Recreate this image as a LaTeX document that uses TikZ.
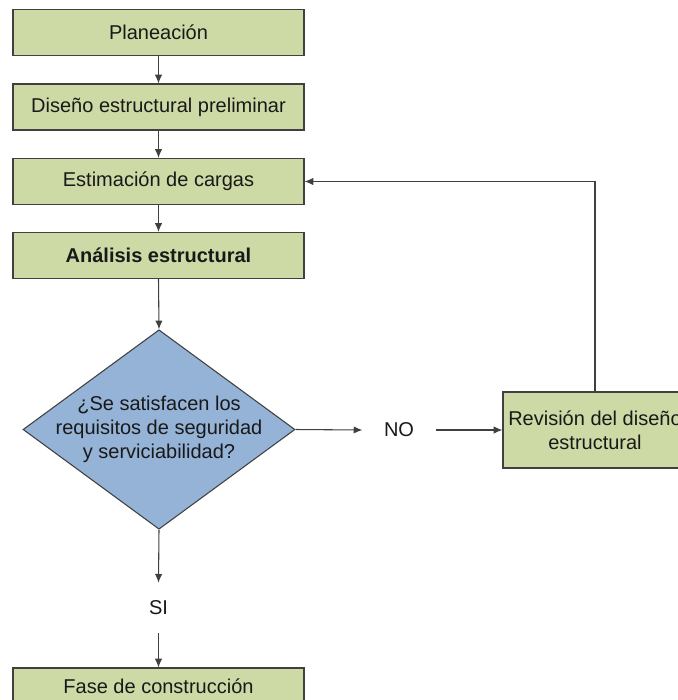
\documentclass[tikz,border=0pt]{standalone}
\usepackage{fontspec}
\setmainfont{Liberation Sans}
\usetikzlibrary{shapes.geometric,arrows.meta}
\definecolor{boxgreen}{RGB}{205,218,166}
\definecolor{decblue}{RGB}{149,179,215}
\definecolor{edgegray}{RGB}{64,64,64}

\begin{document}
\begin{tikzpicture}[x=0.75pt, y=-0.75pt, >={Latex[length=6.5pt,width=5.5pt]}]
      \tikzstyle{snode} = [draw=edgegray, fill=boxgreen, line width=0.9pt, rectangle, minimum width=218.25pt, minimum height=34.5pt, inner sep=2pt, align=center, font=\fontsize{15}{18}\selectfont, text=black!90]
      \tikzstyle{dnode} = [draw=edgegray, fill=decblue, line width=0.8pt, diamond, minimum width=204pt, minimum height=149.6pt, inner sep=0pt]
      \tikzstyle{lnode} = [inner xsep=16pt, inner ysep=13.5pt, font=\fontsize{15}{18}\selectfont, text=black!90]
      \tikzstyle{edge} = [draw=edgegray, line width=0.8pt]

      \useasboundingbox (0,0) rectangle (678,700);
      \clip (0,0) rectangle (678,700);

      %%%%%%%%%%%%%%%%%%%%%%%%%%%%%%
      %% main column
      %%%%%%%%%%%%%%%%%%%%%%%%%%%%%%
      \node[snode] (plan) at (158.5,32.5) {Planeación};
      \node[snode] (dise) at (158.5,107) {Diseño estructural preliminar};
      \node[snode] (esti) at (158.5,181.5) {Estimación de cargas};
      \node[snode] (anal) at (158.5,255.5) {\textbf{Análisis estructural}};

      \node[dnode] (dec) at (159,429.5) {};
      \node[align=center, font=\fontsize{15}{18}\selectfont, text=black!90] (dectext) at (dec.center) {¿Se satisfacen los\\requisitos de seguridad\\y serviciabilidad?};

      \node[lnode] (si) at (158.5,608) {SI};
      \node[snode, minimum height=27pt] (fase) at (158.5,686) {Fase de construcción};

      %%%%%%%%%%%%%%%%%%%%%%%%%%%%%%
      %% revision branch
      %%%%%%%%%%%%%%%%%%%%%%%%%%%%%%
      \node[lnode] (no) at (399,430) {NO};
      \node[snode, minimum width=138pt, minimum height=57pt, inner sep=0pt] (rev) at (595,430) {Revisión del diseño\\estructural};

      % edges down the column
      \draw[edge, ->] (plan.south) -- (dise.north);
      \draw[edge, ->] (dise.south) -- (esti.north);
      \draw[edge, ->] (esti.south) -- (anal.north);
      \draw[edge, ->] (anal.south) -- (dec.north);
      \draw[edge, ->] (dec.south) -- (si.north);
      \draw[edge, ->] (si.south) -- (fase.north);

      % edges of the loop
      \draw[edge, ->] (dec.east) -- (no.west);
      \draw[edge, ->] (no.east) -- (rev.west);
      \draw[edge, ->] (rev.north) |- (esti.east);

    \end{tikzpicture}
\end{document}
